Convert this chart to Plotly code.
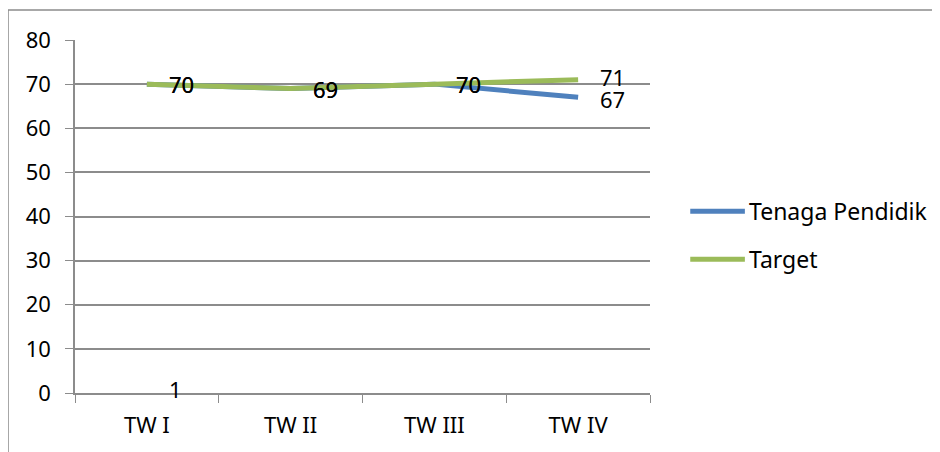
import plotly.graph_objects as go

# datos
trimestres = ["TW I", "TW II", "TW III", "TW IV"]
tenaga_pendidik = [70, 69, 70, 67]
target = [70, 69, 70, 71]
# etiqueta suelta que aparece abajo en TW I
extra_cat = ["TW I"]
extra_val = [0]
extra_txt = ["1"]

fuente = "Noto Sans"
azul = "#4F81BD"
verde = "#9BBB59"
gris = "#8C8C8C"

series = [("Tenaga Pendidik", tenaga_pendidik, azul), ("Target", target, verde)]

fig = go.Figure()

for nombre, valores, color in series:
    fig.add_trace(go.Scatter(
        x=trimestres, y=valores, name=nombre, mode="lines",
        line=dict(color=color, width=5), showlegend=False
    ))

# etiquetas de datos a la derecha del punto, como en excel
# (cuando las dos series difieren, la mayor va un poco arriba y la otra abajo)
for i, cat in enumerate(trimestres):
    a, b = tenaga_pendidik[i], target[i]
    for v, otro in ((a, b), (b, a)):
        dy = 3 if v > otro else (-2 if v < otro else 0)
        fig.add_annotation(x=cat, y=v, text=str(v), showarrow=False,
                           xanchor="left", yanchor="middle", xshift=20, yshift=dy,
                           font=dict(size=22, color="black"))

for cat, v, t in zip(extra_cat, extra_val, extra_txt):
    fig.add_annotation(x=cat, y=v, text=t, showarrow=False,
                       xanchor="left", yanchor="middle", xshift=20, yshift=4,
                       font=dict(size=22, color="black"))

# leyenda dibujada a mano para que la linea salga larga como en el original
for i, (nombre, valores, color) in enumerate(series):
    yl = 0.515 - i * 0.136
    fig.add_shape(type="line", xref="paper", yref="paper",
                  x0=1.07, x1=1.165, y0=yl, y1=yl,
                  line=dict(color=color, width=5))
    fig.add_annotation(xref="paper", yref="paper", x=1.168, y=yl, text=nombre,
                       showarrow=False, xanchor="left", yanchor="middle",
                       font=dict(size=23, color="black"))

# marco gris alrededor de todo el grafico
fig.add_shape(type="rect", xref="paper", yref="paper",
              x0=-0.1165, x1=1.5, y0=-0.5, y1=1.085,
              line=dict(color=gris, width=1.5), layer="above")

fig.update_layout(
    width=940, height=452,
    margin=dict(l=67, r=298, t=32, b=67),
    paper_bgcolor="white", plot_bgcolor="white",
    font=dict(family=fuente, size=22, color="black"),
    showlegend=False,
    xaxis=dict(
        type="category", range=[-0.5, 3.5], tickson="boundaries",
        ticks="outside", ticklen=8, tickcolor=gris, showgrid=False,
        showline=True, linecolor=gris, linewidth=1.5,
        ticklabelstandoff=12, automargin=False
    ),
    yaxis=dict(
        range=[0, 80], dtick=10, showgrid=True, gridcolor=gris, gridwidth=1.5,
        ticks="outside", ticklen=8, tickcolor=gris, zeroline=False,
        showline=True, linecolor=gris, linewidth=1.5,
        ticklabelstandoff=10, automargin=False
    )
)

fig.write_html("out.html")
